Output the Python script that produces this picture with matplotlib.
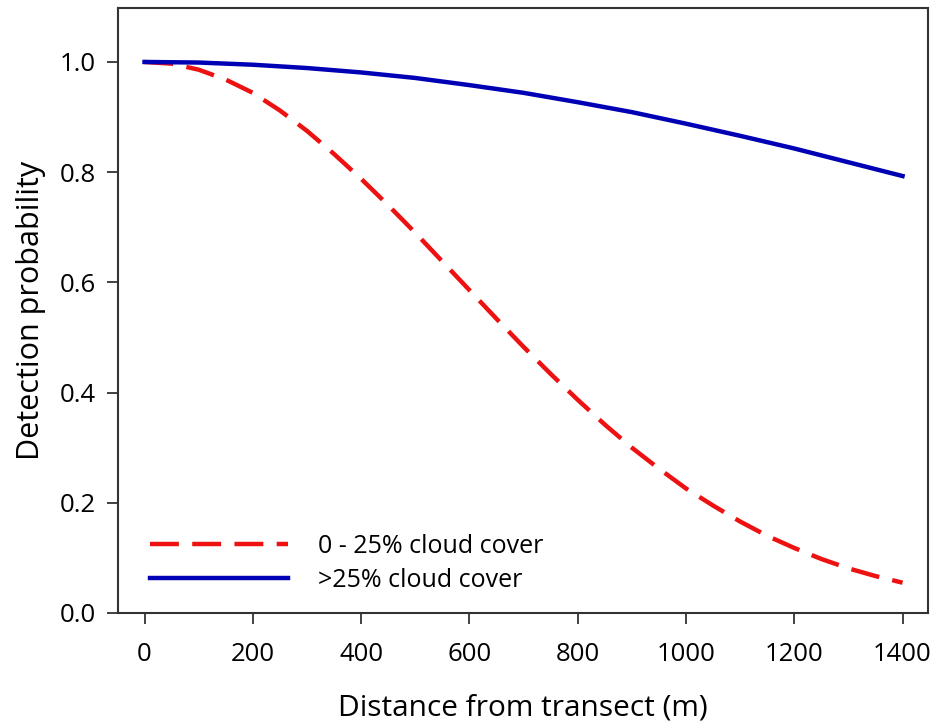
import matplotlib
matplotlib.use('Agg')
import matplotlib.pyplot as plt

plt.rcParams['font.family'] = ['Open Sans', 'DejaVu Sans']

# Distância (m) e probabilidade de detecção
dist_baixa = [0, 50, 100, 150, 200, 250, 300, 350, 400, 450, 500, 550, 600, 650,
              700, 750, 800, 850, 900, 950, 1000, 1050, 1100, 1150, 1200, 1250,
              1300, 1350, 1400]
prob_baixa = [1.000, 0.997, 0.986, 0.968, 0.944, 0.912, 0.875, 0.833, 0.788,
              0.740, 0.690, 0.638, 0.586, 0.534, 0.483, 0.434, 0.387, 0.342,
              0.300, 0.262, 0.226, 0.195, 0.166, 0.140, 0.118, 0.098, 0.081,
              0.067, 0.055]

dist_alta = [0, 100, 200, 300, 400, 500, 600, 700, 800, 900, 1000, 1100, 1200,
             1300, 1400]
prob_alta = [1.000, 0.999, 0.995, 0.989, 0.981, 0.971, 0.958, 0.944, 0.927,
             0.909, 0.888, 0.866, 0.843, 0.818, 0.793]

rotulos = ['0 - 25% cloud cover', '>25% cloud cover']
xticks = [0, 200, 400, 600, 800, 1000, 1200, 1400]
yticks = [0.0, 0.2, 0.4, 0.6, 0.8, 1.0]

fig = plt.figure(figsize=(9.32, 7.25), dpi=100)
ax = fig.add_axes([0.1266, 0.1545, 0.8691, 0.8345])

ax.plot(dist_baixa, prob_baixa, color='#EE1111', lw=3.2, dashes=(6.5, 3),
        label=rotulos[0])
ax.plot(dist_alta, prob_alta, color='#0000B4', lw=3.2, label=rotulos[1])

ax.set_xlim(-49, 1447)
ax.set_ylim(0, 1.098)
ax.set_xticks(xticks)
ax.set_xticklabels([str(t) for t in xticks])
ax.set_yticks(yticks)
ax.set_yticklabels([f'{t:.1f}' for t in yticks])

for s in ax.spines.values():
    s.set_linewidth(1.5)
    s.set_color('#333333')
ax.tick_params(direction='out', length=8, width=1.3, colors='#333333',
               labelsize=18.5, labelcolor='black', pad=8)
ax.tick_params(axis='x', pad=13)

ax.set_xlabel('Distance from transect (m)', fontsize=21.5, labelpad=19)
ax.set_ylabel('Detection probability', fontsize=22, labelpad=10)

ax.legend(loc='lower left', frameon=False, fontsize=18, handlelength=5.5,
          handletextpad=1.2, bbox_to_anchor=(0.0, -0.02), labelspacing=0.35,
          borderaxespad=0.9)

fig.savefig('out.png', dpi=100)
